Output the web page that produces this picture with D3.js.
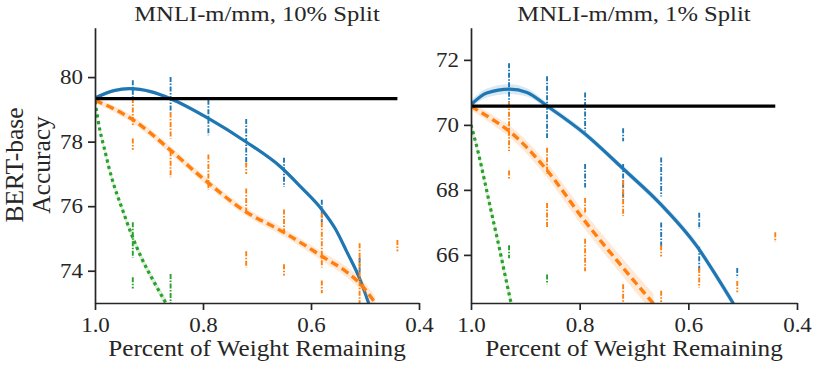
<!DOCTYPE html>
<html>
<head>
<meta charset="utf-8">
<script src="https://cdn.jsdelivr.net/npm/d3@7"></script>
<style>
body { margin: 0; background: #fff; }
text { font-family: "Liberation Serif", "Times New Roman", serif; fill: #262626; }
</style>
</head>
<body>
<div id="chart"></div>
<script>
// x ticks shared by both panels
var xTicks = [1.0, 0.8, 0.6, 0.4];

// ---- MNLI-m/mm, 10% split ----
var yTicks10 = [74, 76, 78, 80];
var base10 = 79.33;
// fitted curves: [weight remaining, accuracy, ci half width]
var fitBlue10 = [
  [1.0, 79.35, 0.06], [0.965, 79.58, 0.05], [0.935, 79.64, 0.05], [0.897, 79.55, 0.05],
  [0.86, 79.33, 0.05], [0.79, 78.72, 0.05], [0.72, 77.99, 0.05], [0.655, 77.2, 0.06],
  [0.619, 76.6, 0.06], [0.58, 75.9, 0.07], [0.555, 75.3, 0.07], [0.534, 74.6, 0.08],
  [0.509, 73.72, 0.09], [0.493, 72.98, 0.1]
];
var fitOrange10 = [
  [1.0, 79.28, 0.08], [0.967, 79.03, 0.1], [0.93, 78.68, 0.11], [0.9, 78.3, 0.12],
  [0.862, 77.76, 0.12], [0.8, 76.86, 0.12], [0.72, 75.82, 0.12], [0.657, 75.25, 0.13],
  [0.62, 74.88, 0.13], [0.58, 74.45, 0.14], [0.534, 73.96, 0.16], [0.509, 73.6, 0.18],
  [0.481, 73.0, 0.2]
];
var fitGreen10 = [
  [1.0, 79.25, 0.08], [0.991, 78.36, 0.09], [0.982, 77.74, 0.1], [0.973, 77.12, 0.1],
  [0.964, 76.6, 0.11], [0.951, 75.98, 0.11], [0.933, 75.15, 0.12], [0.914, 74.4, 0.12],
  [0.889, 73.6, 0.13], [0.868, 72.98, 0.14]
];
// runs of points: [weight remaining, low, high]
var runsBlue10 = [
  [0.93, 79.3, 79.9], [0.86, 78.9, 80.0], [0.79, 78.2, 79.3], [0.72, 77.3, 78.7],
  [0.65, 76.6, 77.5], [0.58, 75.5, 76.2], [0.51, 73.9, 74.4]
];
var runsOrange10 = [
  [0.93, 78.5, 79.35], [0.93, 77.75, 78.1], [0.86, 78.1, 78.9], [0.86, 76.9, 77.7],
  [0.79, 76.5, 77.6], [0.72, 77.0, 77.35], [0.72, 75.8, 76.55], [0.72, 74.1, 74.6],
  [0.65, 75.2, 75.9], [0.65, 73.85, 74.2], [0.58, 74.1, 75.8], [0.58, 73.3, 73.7],
  [0.51, 73.0, 74.85], [0.44, 74.6, 74.95]
];
var runsGreen10 = [
  [0.93, 74.4, 75.5], [0.93, 73.45, 73.8], [0.86, 73.0, 73.9]
];

// ---- MNLI-m/mm, 1% split ----
var yTicks1 = [66, 68, 70, 72];
var base1 = 70.58;
var fitBlue1 = [
  [1.0, 70.62, 0.13], [0.971, 70.98, 0.14], [0.929, 71.1, 0.15], [0.897, 71.0, 0.13],
  [0.859, 70.57, 0.1], [0.79, 69.72, 0.09], [0.72, 68.65, 0.09], [0.652, 67.58, 0.1],
  [0.584, 66.26, 0.11], [0.548, 65.34, 0.12], [0.517, 64.5, 0.13]
];
var fitOrange1 = [
  [1.0, 70.57, 0.12], [0.959, 70.15, 0.15], [0.929, 69.8, 0.18], [0.897, 69.3, 0.2],
  [0.861, 68.62, 0.22], [0.79, 67.03, 0.25], [0.72, 65.6, 0.27], [0.677, 64.75, 0.29],
  [0.664, 64.5, 0.3]
];
var fitGreen1 = [
  [1.0, 70.0, 0.12], [0.986, 69.1, 0.14], [0.974, 68.2, 0.15], [0.961, 67.2, 0.16],
  [0.949, 66.3, 0.17], [0.937, 65.35, 0.18], [0.926, 64.5, 0.2]
];
var runsBlue1 = [
  [0.93, 70.7, 71.9], [0.86, 69.6, 71.5], [0.79, 69.8, 71.0], [0.79, 68.07, 68.8],
  [0.72, 69.5, 69.9], [0.72, 67.7, 68.8], [0.65, 67.8, 69.0], [0.65, 66.2, 67.0],
  [0.58, 66.8, 67.3], [0.58, 65.5, 66.25], [0.51, 65.3, 65.6]
];
var runsOrange1 = [
  [1.0, 70.9, 71.8], [0.93, 69.2, 70.7], [0.93, 68.35, 68.6], [0.86, 68.5, 69.3],
  [0.86, 66.85, 67.6], [0.79, 67.3, 67.75], [0.79, 65.5, 66.5], [0.72, 67.2, 68.3],
  [0.72, 64.5, 65.1], [0.65, 65.95, 66.3], [0.65, 64.55, 64.9], [0.58, 65.0, 65.6],
  [0.51, 64.85, 65.2], [0.44, 66.4, 66.7]
];
var runsGreen1 = [
  [1.0, 68.9, 71.5], [0.93, 65.9, 66.3], [0.86, 65.1, 65.4]
];

var blue = "#1f77b4", orange = "#ff7f0e", green = "#2ca02c", ink = "#262626";
var stretch = 1.12; // glyphs in the figure are a bit wider than tall

var svg = d3.select("#chart").append("svg")
  .attr("width", 814)
  .attr("height", 366);

// line styles: [dash pattern, width]
var solid = [null, 3.2], dashed = ["8,4.5", 3.4], dotted = ["3.2,3.4", 3.2];

var panels = [
  { id: "p10", title: "MNLI-m/mm, 10% Split", left: 95, right: 419, yDomain: [73.0, 81.53],
    yTicks: yTicks10, base: base10,
    fits: [[fitBlue10, blue, solid], [fitOrange10, orange, dashed], [fitGreen10, green, dotted]],
    runs: [[runsBlue10, blue], [runsOrange10, orange], [runsGreen10, green]] },
  { id: "p1", title: "MNLI-m/mm, 1% Split", left: 471, right: 797, yDomain: [64.52, 72.99],
    yTicks: yTicks1, base: base1,
    fits: [[fitBlue1, blue, solid], [fitOrange1, orange, dashed], [fitGreen1, green, dotted]],
    runs: [[runsBlue1, blue], [runsOrange1, orange], [runsGreen1, green]] }
];

var plotTop = 27.7, plotBottom = 303;

panels.forEach(function (p) {
  var x = d3.scaleLinear().domain([1.0, 0.4]).range([p.left, p.right]);
  var y = d3.scaleLinear().domain(p.yDomain).range([plotBottom, plotTop]);

  svg.append("clipPath").attr("id", "clip-" + p.id)
    .append("rect")
    .attr("x", p.left).attr("y", plotTop)
    .attr("width", p.right - p.left).attr("height", plotBottom - plotTop);

  var g = svg.append("g").attr("clip-path", "url(#clip-" + p.id + ")");

  var line = d3.line()
    .x(function (d) { return x(d[0]); })
    .y(function (d) { return y(d[1]); })
    .curve(d3.curveMonotoneX);
  var band = d3.area()
    .x(function (d) { return x(d[0]); })
    .y0(function (d) { return y(d[1] - d[2]); })
    .y1(function (d) { return y(d[1] + d[2]); })
    .curve(d3.curveMonotoneX);

  p.fits.forEach(function (f, i) {
    var runs = p.runs[i];
    // point runs, drawn as dash-dot streaks
    g.append("g").selectAll("line")
      .data(runs[0])
      .enter().append("line")
      .attr("x1", function (d) { return x(d[0]); })
      .attr("x2", function (d) { return x(d[0]); })
      .attr("y1", function (d) { return y(d[2]); })
      .attr("y2", function (d) { return y(d[1]); })
      .attr("stroke", runs[1])
      .attr("stroke-width", 1.9)
      .attr("stroke-dasharray", "5,1.5,1.5,1.5");

    g.append("path")
      .attr("d", line(f[0]))
      .attr("fill", "none")
      .attr("stroke", f[1])
      .attr("stroke-width", f[2][1])
      .attr("stroke-dasharray", f[2][0]);

    g.append("path")
      .attr("d", band(f[0]))
      .attr("fill", f[1])
      .attr("fill-opacity", 0.17);
  });

  // baseline
  g.append("line")
    .attr("x1", x(1.0)).attr("x2", x(0.44))
    .attr("y1", y(p.base)).attr("y2", y(p.base))
    .attr("stroke", "#000")
    .attr("stroke-width", 3.2);

  // axes
  var xAxis = svg.append("g")
    .attr("transform", "translate(0," + plotBottom + ")")
    .call(d3.axisBottom(x).tickValues(xTicks).tickFormat(d3.format(".1f"))
      .tickSize(7).tickPadding(7).tickSizeOuter(0));
  var yAxis = svg.append("g")
    .attr("transform", "translate(" + p.left + ",0)")
    .call(d3.axisLeft(y).tickValues(p.yTicks).tickSize(7).tickPadding(5).tickSizeOuter(0));

  [xAxis, yAxis].forEach(function (a) {
    a.select(".domain").attr("stroke", ink).attr("stroke-width", 1.7);
    a.selectAll(".tick line").attr("stroke", ink).attr("stroke-width", 1.7);
    a.selectAll(".tick text")
      .attr("font-family", "Liberation Serif, serif")
      .attr("font-size", 20.5)
      .attr("fill", ink)
      .attr("transform", "scale(" + stretch + ",1)");
  });
  yAxis.selectAll(".tick text").attr("x", -12 / stretch);

  var cx = (p.left + p.right) / 2;
  svg.append("text")
    .attr("transform", "translate(" + cx + ",21) scale(" + stretch + ",1)")
    .attr("text-anchor", "middle")
    .attr("font-size", 22)
    .text(p.title);

  svg.append("text")
    .attr("transform", "translate(" + cx + ",356) scale(" + stretch + ",1)")
    .attr("text-anchor", "middle")
    .attr("font-size", 22.5)
    .text("Percent of Weight Remaining");
});

// y label on the left panel only
["BERT-base", "Accuracy"].forEach(function (t, i) {
  svg.append("text")
    .attr("transform", "translate(" + (23 + i * 27) + ",165) rotate(-90)")
    .attr("text-anchor", "middle")
    .attr("font-size", 25.5)
    .text(t);
});
</script>
</body>
</html>
